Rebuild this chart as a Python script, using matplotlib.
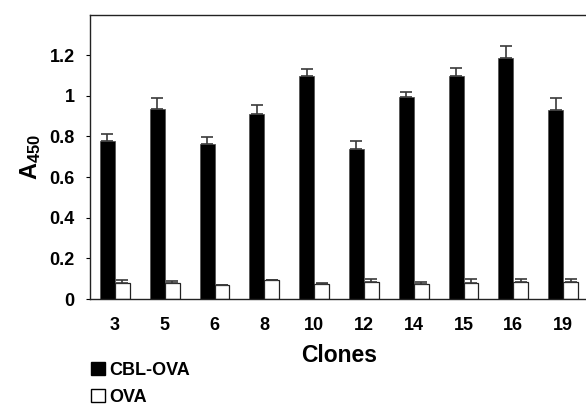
import matplotlib
matplotlib.use('Agg')
import matplotlib.pyplot as plt
import matplotlib.patches as patches
import numpy as np

plt.rcParams['font.family'] = ['Liberation Sans', 'DejaVu Sans']
plt.rcParams['font.weight'] = 'bold'
plt.rcParams['mathtext.fontset'] = 'custom'
plt.rcParams['mathtext.rm'] = 'Liberation Sans:bold'
plt.rcParams['mathtext.bf'] = 'Liberation Sans:bold'

clones = ['3', '5', '6', '8', '10', '12', '14', '15', '16', '19']
cbl_ova = [0.778, 0.933, 0.761, 0.912, 1.098, 0.736, 0.992, 1.098, 1.184, 0.931]
cbl_ova_err = [0.035, 0.056, 0.034, 0.041, 0.032, 0.043, 0.028, 0.037, 0.059, 0.058]
ova = [0.080, 0.079, 0.067, 0.092, 0.072, 0.085, 0.072, 0.077, 0.085, 0.085]
ova_err = [0.012, 0.012, 0.002, 0.0, 0.005, 0.012, 0.013, 0.023, 0.015, 0.015]

fig = plt.figure(figsize=(5.86, 4.07), dpi=100)
ax = fig.add_axes([90/586, 108/407, 498/586, 284.5/407])

x = np.arange(len(clones)) + 0.5
w = 0.3
err_kw = dict(ecolor='#3a3a3a', elinewidth=1.2, capsize=4, capthick=1.2)
ax.bar(x - w/2, cbl_ova, w, yerr=[np.zeros(len(clones)), cbl_ova_err],
       color='black', edgecolor='#555555', linewidth=0.6, error_kw=err_kw, label='CBL-OVA')
ax.bar(x + w/2, ova, w, yerr=[np.zeros(len(clones)), ova_err],
       color='white', edgecolor='#222222', linewidth=0.9, error_kw=err_kw, label='OVA')

ax.set_xlim(0, len(clones))
ax.set_ylim(0, 1.4)
ax.set_yticks([0, 0.2, 0.4, 0.6, 0.8, 1, 1.2])
ax.set_yticklabels(['0', '0.2', '0.4', '0.6', '0.8', '1', '1.2'], fontsize=13, fontweight='bold')
ax.set_xticks(x)
ax.set_xticklabels(clones, fontsize=13, fontweight='bold')
ax.tick_params(axis='x', length=0, pad=13)
ax.tick_params(axis='y', length=3, width=0.8, direction='out', pad=8)
ax.spines['right'].set_visible(False)
for s in ['left', 'bottom', 'top']:
    ax.spines[s].set_linewidth(1.0)
    ax.spines[s].set_color('#222222')

ax.set_xlabel('Clones', fontsize=16.5, fontweight='bold', labelpad=7)
ax.set_ylabel(r'$\mathbf{A_{450}}$', fontsize=17, labelpad=5)

handles = [patches.Patch(facecolor='black', edgecolor='black', label='CBL-OVA'),
           patches.Patch(facecolor='white', edgecolor='black', label='OVA')]
fig.legend(handles=handles, loc='lower left', bbox_to_anchor=(77/586, -13/407),
           frameon=False, handlelength=0.75, handleheight=0.75,
           handletextpad=0.25, labelspacing=0.55, borderpad=0.3,
           prop={'weight': 'bold', 'size': 13})

fig.savefig('out.png', dpi=100)
